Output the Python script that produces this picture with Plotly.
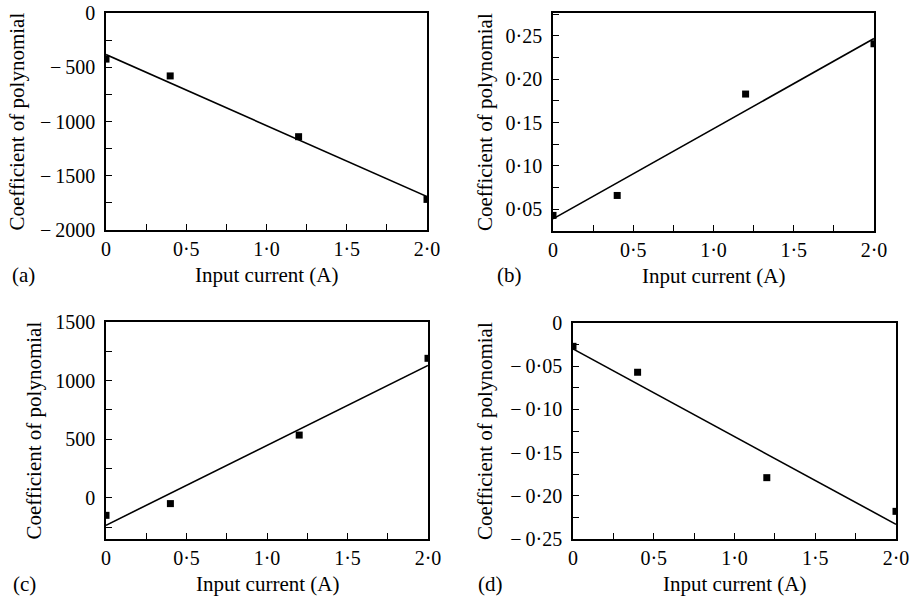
import plotly.graph_objects as go

W, H = 913, 602

# ---------------- data ----------------
x_pts = [0.0, 0.4, 1.2, 2.0]
x_fit = [0.0, 2.0]

a_pts = [-425, -580, -1140, -1718]
a_fit = [-383, -1692]

b_pts = [0.043, 0.066, 0.183, 0.241]
b_fit = [0.039, 0.247]

c_pts = [-150, -50, 535, 1190]
c_fit = [-235, 1130]

d_pts = [-0.027, -0.057, -0.179, -0.218]
d_fit = [-0.030, -0.233]

x_tickvals = [0, 0.5, 1.0, 1.5, 2.0]
x_ticktext = ["0", "0·5", "1·0", "1·5", "2·0"]

M = "\u2212\u2009"  # minus sign followed by thin space
a_tickvals = [0, -500, -1000, -1500, -2000]
a_ticktext = ["0", M + "500", M + "1000", M + "1500", M + "2000"]
b_tickvals = [0.05, 0.10, 0.15, 0.20, 0.25]
b_ticktext = ["0·05", "0·10", "0·15", "0·20", "0·25"]
c_tickvals = [0, 500, 1000, 1500]
c_ticktext = ["0", "500", "1000", "1500"]
d_tickvals = [0, -0.05, -0.10, -0.15, -0.20, -0.25]
d_ticktext = ["0", M + "0·05", M + "0·10", M + "0·15", M + "0·20", M + "0·25"]

panel_labels = ["(a)", "(b)", "(c)", "(d)"]
x_title = "Input current (A)"
y_title = "Coefficient of polynomial"

# ---------------- layout geometry (pixels) ----------------
# (left, right, top, bottom) of each plot area
boxes = [(106, 427, 13, 230), (553, 874, 13, 231), (106, 428, 322, 539), (573, 896, 323, 539)]
yranges = [[-2000, 0], [0.025, 0.2765], [-352, 1500], [-0.25, 0]]
yminor = [250, 0.025, 250, 0.025]
ytv = [a_tickvals, b_tickvals, c_tickvals, d_tickvals]
ytt = [a_ticktext, b_ticktext, c_ticktext, d_ticktext]
pts = [a_pts, b_pts, c_pts, d_pts]
fits = [a_fit, b_fit, c_fit, d_fit]
ytitle_x = [17, 485, 33, 485]
label_pos = [(23, 275), (509, 275), (24, 584), (490, 584)]

FONT = "Liberation Serif, Times New Roman, serif"
TICK = 20
fig = go.Figure()
layout = dict(
    template="none",
    width=W, height=H, margin=dict(l=0, r=0, t=0, b=0, autoexpand=False),
    paper_bgcolor="white", plot_bgcolor="white", showlegend=False,
    font=dict(family=FONT, size=20, color="black"),
)
annotations = []
for i in range(4):
    l, r, t, b = boxes[i]
    xa = "xaxis" if i == 0 else f"xaxis{i+1}"
    ya = "yaxis" if i == 0 else f"yaxis{i+1}"
    xref = "x" if i == 0 else f"x{i+1}"
    yref = "y" if i == 0 else f"y{i+1}"
    layout[xa] = dict(
        domain=[l / W, r / W], anchor=yref, range=[0, 2.0], automargin=False,
        tickvals=x_tickvals, ticktext=x_ticktext,
        ticks="inside", ticklen=6, tickwidth=1.2, tickcolor="black",
        minor=dict(dtick=0.25, tick0=0, ticks="inside", ticklen=6, tickwidth=1.2, tickcolor="black"),
        showline=True, linecolor="black", linewidth=1.5, mirror=True,
        showgrid=False, zeroline=False,
        tickfont=dict(family=FONT, size=TICK, color="black"),
        ticklabelstandoff=0,
    )
    layout[ya] = dict(
        domain=[1 - b / H, 1 - t / H], anchor=xref, range=yranges[i], automargin=False,
        tickvals=ytv[i], ticktext=ytt[i],
        ticks="inside", ticklen=6, tickwidth=1.2, tickcolor="black",
        minor=dict(dtick=yminor[i], tick0=0, ticks="inside", ticklen=6, tickwidth=1.2, tickcolor="black"),
        showline=True, linecolor="black", linewidth=1.5, mirror=True,
        showgrid=False, zeroline=False,
        tickfont=dict(family=FONT, size=TICK, color="black"),
        ticklabelstandoff=5,
    )
    fig.add_trace(go.Scatter(
        x=x_fit, y=fits[i], mode="lines", line=dict(color="black", width=1.6),
        xaxis=xref, yaxis=yref, hoverinfo="skip"))
    fig.add_trace(go.Scatter(
        x=x_pts, y=pts[i], mode="markers",
        marker=dict(symbol="square", size=7, color="black"),
        xaxis=xref, yaxis=yref, cliponaxis=True))
    # axis titles
    annotations.append(dict(
        text=x_title, x=(l + r) / 2 / W, y=1 - (b + 45) / H, xref="paper", yref="paper",
        showarrow=False, xanchor="center", yanchor="middle",
        font=dict(family=FONT, size=21, color="black")))
    annotations.append(dict(
        text=y_title, x=ytitle_x[i] / W, y=1 - (t + b) / 2 / H, xref="paper", yref="paper",
        showarrow=False, xanchor="center", yanchor="middle", textangle=-90,
        font=dict(family=FONT, size=21, color="black")))
    lx, ly = label_pos[i]
    annotations.append(dict(
        text=panel_labels[i], x=lx / W, y=1 - ly / H, xref="paper", yref="paper",
        showarrow=False, xanchor="center", yanchor="middle",
        font=dict(family=FONT, size=21, color="black")))

layout["annotations"] = annotations
fig.update_layout(**layout)
fig.write_html("out.html", config={"displayModeBar": False},
               post_script="document.body.style.margin='0';")
